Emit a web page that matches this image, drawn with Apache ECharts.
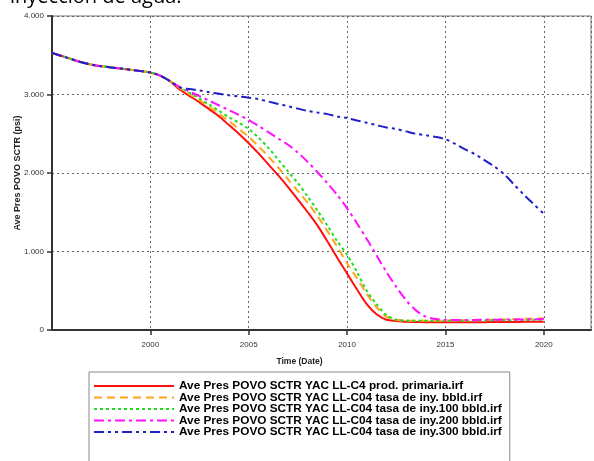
<!DOCTYPE html>
<html>
<head>
<meta charset="utf-8">
<script src="https://cdn.jsdelivr.net/npm/echarts@6/dist/echarts.min.js"></script>
<style>
  html, body { margin: 0; padding: 0; background: #fff; }
  #chart { width: 594px; height: 461px; }
</style>
</head>
<body>
<div id="chart"></div>
<script>
// historia comun (1995 - 2001), paso de medio año
const histYears = [1995, 1995.5, 1996, 1996.5, 1997, 1997.5, 1998, 1998.5, 1999, 1999.5, 2000, 2000.5, 2001];
const histPres = [3530, 3490, 3450, 3410, 3380, 3360, 3345, 3330, 3315, 3300, 3280, 3240, 3170];

// pronostico (2001.5 - 2020)
const fcYears = [2001.5, 2002, 2002.5, 2003, 2003.5, 2004, 2004.5, 2005, 2005.5, 2006, 2006.5, 2007, 2007.5,
  2008, 2008.5, 2009, 2009.5, 2010, 2010.5, 2011, 2011.5, 2012, 2012.5, 2013, 2013.5, 2014, 2014.5,
  2015, 2015.5, 2016, 2016.5, 2017, 2017.5, 2018, 2018.5, 2019, 2019.5, 2020];

const presPrimaria = [3060, 2980, 2900, 2810, 2720, 2610, 2500, 2380, 2250, 2110, 1970, 1820, 1660,
  1500, 1330, 1130, 920, 720, 520, 330, 200, 130, 115, 105, 102, 100, 100,
  100, 100, 100, 100, 100, 102, 102, 103, 104, 105, 105];
const presIny0 = [3080, 3000, 2925, 2840, 2750, 2660, 2560, 2460, 2340, 2210, 2070, 1920, 1770,
  1620, 1450, 1260, 1060, 850, 660, 460, 290, 170, 130, 120, 118, 118, 118,
  120, 122, 124, 126, 128, 132, 135, 138, 142, 146, 150];
const presIny100 = [3090, 3020, 2950, 2870, 2790, 2710, 2640, 2560, 2450, 2320, 2170, 2020, 1870,
  1700, 1520, 1330, 1130, 960, 740, 500, 330, 190, 130, 120, 118, 118, 118,
  118, 118, 119, 120, 121, 122, 124, 125, 127, 128, 130];
const presIny200 = [3095, 3036, 2980, 2920, 2860, 2800, 2740, 2675, 2600, 2520, 2440, 2360, 2260,
  2140, 2010, 1870, 1720, 1550, 1360, 1160, 950, 740, 550, 380, 250, 170, 140,
  130, 128, 128, 128, 130, 130, 132, 133, 135, 137, 140];
const presIny300 = [3090, 3070, 3050, 3030, 3010, 2990, 2975, 2960, 2940, 2910, 2880, 2850, 2820,
  2790, 2770, 2750, 2720, 2700, 2670, 2640, 2610, 2580, 2560, 2530, 2500, 2480, 2460,
  2430, 2370, 2300, 2240, 2160, 2080, 1980, 1850, 1720, 1600, 1480];

const seriesNames = [
  'Ave Pres POVO SCTR YAC LL-C4 prod. primaria.irf',
  'Ave Pres POVO SCTR YAC LL-C04 tasa de iny. bbld.irf',
  'Ave Pres POVO SCTR YAC LL-C04 tasa de iny.100 bbld.irf',
  'Ave Pres POVO SCTR YAC LL-C04 tasa de iny.200 bbld.irf',
  'Ave Pres POVO SCTR YAC LL-C04 tasa de iny.300 bbld.irf'
];
const yTickLabels = ['0', '1.000', '2.000', '3.000', '4.000'];

(function () {
  var myChart = echarts.init(document.getElementById('chart'));

  const colors = ['#ff1010', '#ffa41c', '#22dd22', '#ff10ff', '#2020c8'];
  const dashes = ['solid', [8, 5], [3, 3], [10, 4, 3, 4], [10, 4, 3, 4, 3, 4]];
  const forecasts = [presPrimaria, presIny0, presIny100, presIny200, presIny300];

  // une historia + pronostico en pares [año, presion]
  function buildData(fc) {
    const xs = histYears.concat(fcYears);
    const ys = histPres.concat(fc);
    return xs.map((x, i) => [x, ys[i]]);
  }

  const series = forecasts.map((fc, i) => ({
    name: seriesNames[i],
    type: 'line',
    data: buildData(fc),
    smooth: 0.3,
    symbol: 'none',
    color: colors[i],
    lineStyle: { color: colors[i], width: 2, type: dashes[i] },
    z: 2 + i
  }));

  const dotted = { color: '#666', width: 1, type: [2, 3] };

  var option = {
    animation: false,
    backgroundColor: '#fff',
    graphic: [{
      type: 'text',
      left: 10,
      top: -13,
      style: {
        text: 'inyección de agua.',
        font: '20px "Open Sans", "DejaVu Sans", sans-serif',
        fill: '#000'
      }
    }],
    grid: {
      left: 52,
      right: 3,
      top: 16,
      bottom: 131,
      outerBoundsMode: 'none',
      show: true,
      borderColor: '#777',
      borderWidth: 1
    },
    xAxis: {
      type: 'value',
      min: 1995,
      max: 2022.4,
      interval: 5,
      name: 'Time (Date)',
      nameLocation: 'middle',
      nameGap: 27,
      nameMoveOverlap: false,
      nameTextStyle: {
        fontFamily: 'Liberation Sans, Arial, sans-serif',
        fontWeight: 'bold',
        fontSize: 8.5,
        color: '#222',
        padding: [0, 44, 0, 0]
      },
      axisLine: { show: true, onZero: false, lineStyle: { color: '#333', width: 2 } },
      axisTick: { show: true, length: 5, inside: false, lineStyle: { color: '#333', width: 1.5 } },
      axisLabel: {
        showMinLabel: false,
        showMaxLabel: false,
        margin: 11,
        fontSize: 8,
        fontFamily: 'Liberation Sans, Arial, sans-serif',
        color: '#333',
        formatter: v => String(v)
      },
      splitLine: { show: true, lineStyle: dotted }
    },
    yAxis: {
      type: 'value',
      min: 0,
      max: 4000,
      interval: 1000,
      name: 'Ave Pres POVO SCTR (psi)',
      nameLocation: 'middle',
      nameGap: 30,
      nameMoveOverlap: false,
      nameTextStyle: {
        fontFamily: 'Liberation Sans, Arial, sans-serif',
        fontWeight: 'bold',
        fontSize: 9,
        color: '#222'
      },
      axisLine: { show: true, lineStyle: { color: '#333', width: 2 } },
      axisTick: { show: true, length: 5, lineStyle: { color: '#333', width: 1.5 } },
      axisLabel: {
        margin: 8,
        fontSize: 8,
        fontFamily: 'Liberation Sans, Arial, sans-serif',
        color: '#333',
        formatter: v => yTickLabels[Math.round(v / 1000)]
      },
      splitLine: { show: true, lineStyle: dotted }
    },
    legend: {
      orient: 'vertical',
      left: 89,
      top: 372,
      height: 120,
      data: seriesNames,
      itemWidth: 80,
      itemHeight: 10,
      itemGap: -0.5,
      padding: [8, 8, 30, 4],
      backgroundColor: '#fff',
      borderColor: '#888',
      borderWidth: 1,
      borderRadius: 0,
      selectedMode: false,
      itemStyle: { opacity: 0 },
      textStyle: {
        fontFamily: 'Liberation Sans, Arial, sans-serif',
        fontWeight: 'bold',
        fontSize: 11.8,
        lineHeight: 10,
        color: '#000'
      }
    },
    series: series
  };

  myChart.setOption(option);
})();
</script>
</body>
</html>
